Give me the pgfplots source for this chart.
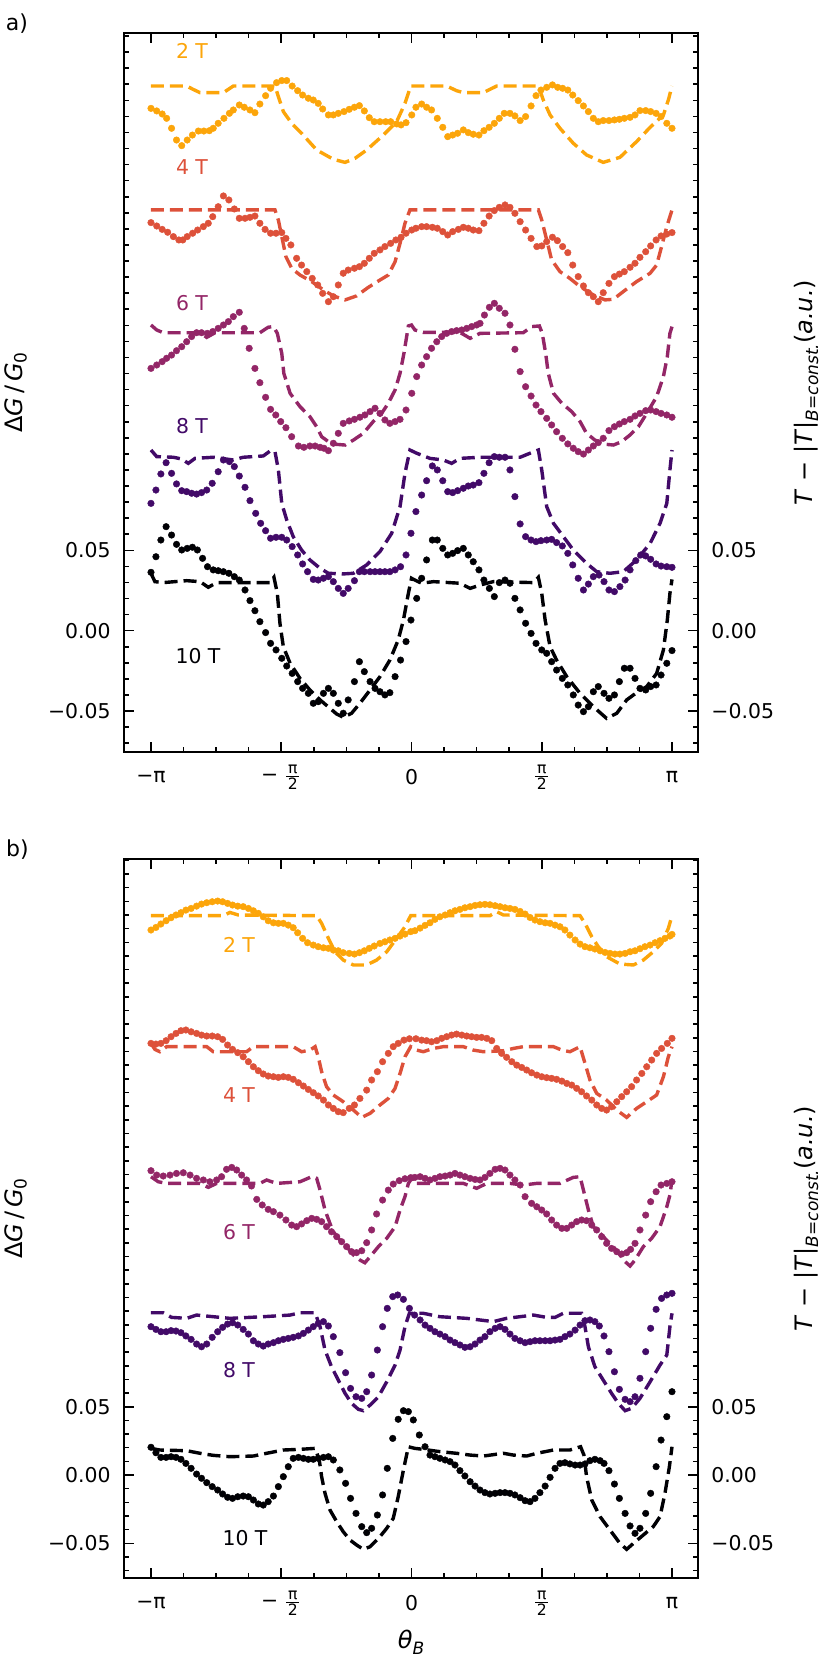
\documentclass[border=0pt]{standalone}
\usepackage{pgfplots}
\pgfplotsset{compat=1.18}
\usepackage{fontspec}
\setmainfont{DejaVu Sans}
\definecolor{cA}{HTML}{FCA50A}
\definecolor{cB}{HTML}{DD513A}
\definecolor{cC}{HTML}{932667}
\definecolor{cD}{HTML}{420A68}
\definecolor{cE}{HTML}{000004}
\newcommand{\fr}{$\frac{\mbox{\fontsize{7.8}{8}\selectfont\kern0.8pt π\kern0.8pt}}{\mbox{\fontsize{7.8}{8}\selectfont 2}}$}
\newcommand{\lbl}{\fontsize{12}{14}\selectfont}
\pgfplotsset{
 base/.style={scale only axis, width=287pt, height=359.5pt, anchor=south west, xmin=-1.1036, xmax=1.0998},
 main/.style={base, axis line style={line width=1pt}, tick align=inside, tick pos=both,
   xtick={-1,-0.5,0,0.5,1}, xticklabels={−π,−\hspace{3pt}\fr,0,\fr,π},
   minor xtick={-0.875,-0.75,-0.625,-0.375,-0.25,-0.125,0.125,0.25,0.375,0.625,0.75,0.875},
   ytick={-0.05,0,0.05}, yticklabels={−0.05,0.00,0.05},
   major tick length=5pt, minor tick length=2.5pt,
   every tick/.style={line width=0.8pt, black},
   tick label style={font=\fontsize{10.2}{12}\selectfont},
   xticklabel style={anchor=center, yshift=-12.5pt},
   yticklabel style={xshift=-3.2pt},
   ylabel={Δ\textit{G}\,/\,\textit{G}\raisebox{-0.3ex}{\fontsize{8.5}{9}\selectfont 0}},
   ylabel style={at={(axis description cs:-0.1882,0.5)}, anchor=center, font=\lbl},
 },
 right/.style={base, hide x axis, axis y line*=right, y axis line style={draw=none},
   ytick={-0.05,0,0.05}, yticklabels={−0.05,0.00,0.05}, major tick length=0pt, minor ytick={},
   tick label style={font=\fontsize{10.2}{12}\selectfont}, yticklabel style={xshift=3.2pt},
   ylabel={\textit{T} − |\textit{T}|\raisebox{-0.45ex}{\fontsize{8.5}{9}\selectfont\textit{B}=\textit{const.}}(\textit{a.u.})},
   ylabel style={at={(axis description cs:1.1882,0.5)}, anchor=center, rotate=0, font=\lbl},
 },
 pd/.style={only marks, mark=*, mark size=1.65pt, color=#1, mark options={solid, line width=0.2pt}},
 pl/.style={color=#1, line width=1.7pt, dash pattern=on 6.5pt off 3pt, mark=none},
}
\begin{document}
\begin{tikzpicture}
\path[use as bounding box] (0,0) rectangle (415.5pt,830.5pt);
% ---------------- panel a ----------------
\begin{axis}[main, at={(62pt,454.5pt)}, ymin=-0.0755, ymax=0.3719,
  minor ytick={-0.07,-0.06,...,0.37}]
\addplot[pd=cA] coordinates {(-1.000,0.3250) (-0.978,0.3234) (-0.957,0.3215) (-0.940,0.3188) (-0.921,0.3126) (-0.902,0.3053) (-0.882,0.3018) (-0.861,0.3053) (-0.841,0.3084) (-0.818,0.3109) (-0.797,0.3109) (-0.776,0.3111) (-0.761,0.3126) (-0.742,0.3157) (-0.720,0.3188) (-0.699,0.3219) (-0.684,0.3240) (-0.661,0.3271) (-0.642,0.3257) (-0.620,0.3240) (-0.601,0.3223) (-0.582,0.3277) (-0.560,0.3329) (-0.541,0.3375) (-0.518,0.3410) (-0.498,0.3423) (-0.479,0.3423) (-0.458,0.3389) (-0.437,0.3360) (-0.418,0.3333) (-0.396,0.3313) (-0.377,0.3302) (-0.358,0.3281) (-0.341,0.3246) (-0.319,0.3209) (-0.300,0.3209) (-0.281,0.3219) (-0.259,0.3230) (-0.239,0.3244) (-0.219,0.3257) (-0.200,0.3267) (-0.181,0.3234) (-0.162,0.3192) (-0.143,0.3167) (-0.121,0.3167) (-0.099,0.3167) (-0.080,0.3167) (-0.057,0.3153) (-0.040,0.3147) (-0.021,0.3161) (0.001,0.3209) (0.017,0.3257) (0.039,0.3277) (0.058,0.3257) (0.077,0.3240) (0.099,0.3188) (0.120,0.3132) (0.139,0.3074) (0.158,0.3084) (0.177,0.3095) (0.199,0.3116) (0.218,0.3099) (0.237,0.3089) (0.259,0.3084) (0.278,0.3111) (0.298,0.3132) (0.318,0.3157) (0.337,0.3188) (0.356,0.3219) (0.378,0.3219) (0.397,0.3203) (0.417,0.3174) (0.438,0.3199) (0.459,0.3265) (0.478,0.3329) (0.497,0.3364) (0.519,0.3381) (0.541,0.3396) (0.561,0.3381) (0.580,0.3375) (0.600,0.3364) (0.619,0.3333) (0.640,0.3298) (0.660,0.3265) (0.679,0.3230) (0.698,0.3188) (0.717,0.3167) (0.736,0.3174) (0.758,0.3174) (0.779,0.3178) (0.798,0.3182) (0.817,0.3188) (0.839,0.3194) (0.858,0.3209) (0.877,0.3236) (0.899,0.3236) (0.918,0.3230) (0.939,0.3219) (0.958,0.3199) (0.980,0.3157) (1.000,0.3126)};
\addplot[pl=cA] coordinates {(-1,0.3389) (-0.863,0.3389) (-0.838,0.3368) (-0.812,0.3348) (-0.722,0.3348) (-0.684,0.3389) (-0.524,0.3389) (-0.511,0.3323) (-0.492,0.3230) (-0.460,0.3157) (-0.422,0.3095) (-0.364,0.2991) (-0.300,0.2933) (-0.255,0.2914) (-0.217,0.2939) (-0.172,0.2991) (-0.108,0.3084) (-0.057,0.3167) (-0.025,0.3281) (-0.003,0.3389) (0.135,0.3389) (0.173,0.3360) (0.199,0.3348) (0.276,0.3348) (0.327,0.3389) (0.487,0.3389) (0.506,0.3302) (0.532,0.3209) (0.570,0.3126) (0.621,0.3033) (0.672,0.2960) (0.736,0.2914) (0.800,0.2945) (0.864,0.3043) (0.916,0.3132) (0.967,0.3209) (0.986,0.3302) (1.000,0.3389)};
\addplot[pd=cB] coordinates {(-1.000,0.2539) (-0.978,0.2518) (-0.957,0.2497) (-0.936,0.2479) (-0.914,0.2452) (-0.893,0.2431) (-0.878,0.2431) (-0.861,0.2452) (-0.840,0.2473) (-0.821,0.2493) (-0.799,0.2514) (-0.780,0.2535) (-0.763,0.2576) (-0.742,0.2638) (-0.722,0.2705) (-0.701,0.2680) (-0.680,0.2624) (-0.661,0.2566) (-0.639,0.2566) (-0.620,0.2572) (-0.601,0.2580) (-0.582,0.2535) (-0.562,0.2497) (-0.541,0.2473) (-0.520,0.2473) (-0.498,0.2477) (-0.482,0.2441) (-0.463,0.2400) (-0.441,0.2317) (-0.422,0.2275) (-0.402,0.2234) (-0.381,0.2192) (-0.360,0.2151) (-0.341,0.2099) (-0.319,0.2047) (-0.300,0.2078) (-0.281,0.2151) (-0.262,0.2224) (-0.243,0.2244) (-0.219,0.2255) (-0.200,0.2265) (-0.181,0.2286) (-0.162,0.2317) (-0.143,0.2348) (-0.121,0.2369) (-0.102,0.2390) (-0.080,0.2410) (-0.060,0.2431) (-0.040,0.2448) (-0.021,0.2473) (0.001,0.2493) (0.017,0.2504) (0.039,0.2514) (0.058,0.2514) (0.080,0.2510) (0.099,0.2504) (0.120,0.2483) (0.139,0.2462) (0.158,0.2483) (0.180,0.2497) (0.199,0.2510) (0.218,0.2504) (0.237,0.2493) (0.259,0.2489) (0.278,0.2535) (0.298,0.2580) (0.318,0.2614) (0.337,0.2634) (0.359,0.2649) (0.378,0.2634) (0.397,0.2597) (0.417,0.2545) (0.438,0.2493) (0.459,0.2441) (0.481,0.2390) (0.500,0.2394) (0.519,0.2421) (0.541,0.2448) (0.560,0.2427) (0.580,0.2390) (0.600,0.2352) (0.619,0.2275) (0.640,0.2203) (0.660,0.2145) (0.679,0.2103) (0.698,0.2078) (0.717,0.2047) (0.736,0.2103) (0.758,0.2161) (0.779,0.2203) (0.798,0.2219) (0.817,0.2234) (0.839,0.2261) (0.858,0.2286) (0.877,0.2323) (0.899,0.2358) (0.918,0.2394) (0.939,0.2431) (0.958,0.2456) (0.980,0.2468) (1.000,0.2477)};
\addplot[pl=cB] coordinates {(-1,0.2618) (-0.524,0.2618) (-0.511,0.2555) (-0.498,0.2452) (-0.482,0.2327) (-0.460,0.2255) (-0.428,0.2213) (-0.383,0.2172) (-0.338,0.2120) (-0.300,0.2083) (-0.255,0.2058) (-0.211,0.2083) (-0.166,0.2136) (-0.121,0.2182) (-0.089,0.2213) (-0.063,0.2296) (-0.044,0.2410) (-0.025,0.2535) (-0.006,0.2618) (0.487,0.2618) (0.500,0.2555) (0.519,0.2431) (0.538,0.2307) (0.570,0.2234) (0.608,0.2192) (0.647,0.2141) (0.698,0.2089) (0.743,0.2058) (0.775,0.2062) (0.813,0.2110) (0.864,0.2172) (0.916,0.2224) (0.941,0.2275) (0.960,0.2390) (0.980,0.2514) (1.000,0.2618)};
\addplot[pd=cC] coordinates {(-1.000,0.1632) (-0.978,0.1653) (-0.957,0.1674) (-0.940,0.1695) (-0.921,0.1715) (-0.902,0.1742) (-0.882,0.1767) (-0.863,0.1798) (-0.844,0.1830) (-0.825,0.1854) (-0.806,0.1854) (-0.784,0.1850) (-0.763,0.1861) (-0.742,0.1881) (-0.722,0.1902) (-0.703,0.1923) (-0.684,0.1954) (-0.661,0.1981) (-0.642,0.1881) (-0.623,0.1757) (-0.601,0.1632) (-0.582,0.1543) (-0.560,0.1452) (-0.541,0.1377) (-0.521,0.1342) (-0.502,0.1301) (-0.482,0.1263) (-0.460,0.1207) (-0.434,0.1149) (-0.413,0.1141) (-0.390,0.1149) (-0.370,0.1149) (-0.351,0.1141) (-0.336,0.1135) (-0.319,0.1120) (-0.300,0.1166) (-0.281,0.1228) (-0.262,0.1290) (-0.239,0.1305) (-0.219,0.1315) (-0.198,0.1328) (-0.179,0.1342) (-0.159,0.1363) (-0.140,0.1384) (-0.121,0.1352) (-0.102,0.1311) (-0.083,0.1290) (-0.063,0.1301) (-0.044,0.1315) (-0.021,0.1373) (0.001,0.1477) (0.020,0.1581) (0.039,0.1653) (0.058,0.1705) (0.077,0.1757) (0.097,0.1798) (0.116,0.1830) (0.135,0.1850) (0.154,0.1861) (0.173,0.1867) (0.193,0.1871) (0.212,0.1881) (0.231,0.1892) (0.250,0.1902) (0.263,0.1912) (0.280,0.1964) (0.299,0.2012) (0.318,0.2037) (0.337,0.2006) (0.359,0.1975) (0.378,0.1902) (0.397,0.1751) (0.417,0.1612) (0.438,0.1518) (0.459,0.1460) (0.478,0.1404) (0.497,0.1363) (0.519,0.1321) (0.538,0.1280) (0.557,0.1238) (0.579,0.1197) (0.600,0.1162) (0.621,0.1135) (0.640,0.1114) (0.660,0.1099) (0.679,0.1124) (0.698,0.1149) (0.717,0.1170) (0.736,0.1197) (0.758,0.1245) (0.779,0.1269) (0.798,0.1286) (0.817,0.1301) (0.839,0.1315) (0.858,0.1336) (0.877,0.1352) (0.899,0.1369) (0.918,0.1373) (0.939,0.1363) (0.958,0.1352) (0.980,0.1342) (1.000,0.1328)};
\addplot[pl=cC] coordinates {(-1,0.1902) (-0.978,0.1871) (-0.953,0.1854) (-0.812,0.1854) (-0.786,0.1825) (-0.754,0.1854) (-0.582,0.1854) (-0.550,0.1888) (-0.530,0.1892) (-0.515,0.1850) (-0.498,0.1726) (-0.490,0.1601) (-0.466,0.1477) (-0.428,0.1394) (-0.390,0.1332) (-0.364,0.1269) (-0.345,0.1207) (-0.319,0.1176) (-0.294,0.1160) (-0.255,0.1155) (-0.223,0.1186) (-0.185,0.1228) (-0.147,0.1301) (-0.115,0.1352) (-0.089,0.1415) (-0.063,0.1498) (-0.044,0.1601) (-0.029,0.1726) (-0.012,0.1896) (0.000,0.1902) (0.013,0.1871) (0.045,0.1856) (0.186,0.1856) (0.225,0.1819) (0.263,0.1850) (0.429,0.1854) (0.461,0.1892) (0.491,0.1896) (0.502,0.1850) (0.515,0.1726) (0.525,0.1601) (0.545,0.1477) (0.577,0.1415) (0.615,0.1363) (0.647,0.1301) (0.672,0.1228) (0.704,0.1186) (0.743,0.1160) (0.775,0.1155) (0.807,0.1176) (0.839,0.1218) (0.871,0.1269) (0.903,0.1352) (0.941,0.1456) (0.967,0.1581) (0.982,0.1705) (0.992,0.1850) (1.000,0.1892)};
\addplot[pd=cD] coordinates {(-1.000,0.0792) (-0.981,0.0875) (-0.962,0.0975) (-0.942,0.1045) (-0.921,0.0979) (-0.902,0.0913) (-0.882,0.0871) (-0.863,0.0865) (-0.844,0.0855) (-0.825,0.0850) (-0.806,0.0859) (-0.786,0.0875) (-0.765,0.0917) (-0.742,0.0989) (-0.722,0.1062) (-0.699,0.1052) (-0.680,0.1021) (-0.661,0.0962) (-0.639,0.0892) (-0.620,0.0809) (-0.598,0.0730) (-0.579,0.0668) (-0.560,0.0622) (-0.541,0.0575) (-0.520,0.0581) (-0.498,0.0581) (-0.479,0.0564) (-0.458,0.0523) (-0.437,0.0471) (-0.418,0.0415) (-0.399,0.0367) (-0.377,0.0319) (-0.358,0.0315) (-0.338,0.0326) (-0.319,0.0336) (-0.300,0.0305) (-0.281,0.0263) (-0.262,0.0232) (-0.243,0.0263) (-0.219,0.0311) (-0.200,0.0367) (-0.181,0.0367) (-0.159,0.0367) (-0.140,0.0367) (-0.121,0.0367) (-0.102,0.0367) (-0.083,0.0367) (-0.063,0.0378) (-0.042,0.0398) (-0.021,0.0471) (-0.002,0.0606) (0.017,0.0741) (0.039,0.0844) (0.058,0.0933) (0.080,0.1025) (0.099,0.1000) (0.120,0.0933) (0.139,0.0865) (0.158,0.0859) (0.177,0.0871) (0.199,0.0886) (0.218,0.0900) (0.237,0.0906) (0.259,0.0921) (0.278,0.0979) (0.298,0.1045) (0.318,0.1083) (0.337,0.1079) (0.359,0.1079) (0.378,0.1000) (0.397,0.0834) (0.417,0.0664) (0.438,0.0585) (0.459,0.0564) (0.478,0.0554) (0.497,0.0560) (0.519,0.0564) (0.538,0.0568) (0.557,0.0548) (0.579,0.0527) (0.600,0.0481) (0.619,0.0409) (0.640,0.0326) (0.660,0.0253) (0.679,0.0290) (0.698,0.0336) (0.720,0.0346) (0.739,0.0305) (0.758,0.0253) (0.779,0.0243) (0.800,0.0274) (0.820,0.0315) (0.839,0.0378) (0.861,0.0436) (0.880,0.0471) (0.899,0.0465) (0.918,0.0444) (0.939,0.0415) (0.958,0.0402) (0.980,0.0398) (1.000,0.0394)};
\addplot[pl=cD] coordinates {(-1,0.1124) (-0.978,0.1083) (-0.914,0.1079) (-0.882,0.1068) (-0.857,0.1041) (-0.831,0.1072) (-0.761,0.1079) (-0.684,0.1062) (-0.646,0.1079) (-0.569,0.1087) (-0.541,0.1120) (-0.524,0.1114) (-0.511,0.1000) (-0.498,0.0792) (-0.479,0.0689) (-0.454,0.0585) (-0.422,0.0502) (-0.390,0.0440) (-0.351,0.0388) (-0.319,0.0357) (-0.262,0.0353) (-0.223,0.0357) (-0.172,0.0409) (-0.121,0.0492) (-0.076,0.0606) (-0.044,0.0772) (-0.025,0.0979) (-0.006,0.1124) (0.020,0.1104) (0.071,0.1072) (0.122,0.1062) (0.154,0.1041) (0.186,0.1072) (0.263,0.1079) (0.417,0.1079) (0.455,0.1104) (0.487,0.1124) (0.500,0.1000) (0.519,0.0772) (0.545,0.0668) (0.583,0.0585) (0.621,0.0502) (0.672,0.0419) (0.711,0.0367) (0.762,0.0357) (0.813,0.0367) (0.864,0.0440) (0.916,0.0543) (0.954,0.0668) (0.980,0.0792) (0.992,0.1000) (1.000,0.1124)};
\addplot[pd=cE] coordinates {(-1.000,0.0363) (-0.981,0.0460) (-0.962,0.0564) (-0.942,0.0647) (-0.921,0.0595) (-0.902,0.0537) (-0.882,0.0502) (-0.861,0.0512) (-0.841,0.0519) (-0.822,0.0502) (-0.802,0.0450) (-0.783,0.0398) (-0.761,0.0378) (-0.742,0.0373) (-0.722,0.0367) (-0.701,0.0357) (-0.680,0.0336) (-0.661,0.0315) (-0.639,0.0253) (-0.620,0.0187) (-0.601,0.0124) (-0.582,0.0056) (-0.560,-0.0012) (-0.541,-0.0079) (-0.520,-0.0120) (-0.498,-0.0172) (-0.479,-0.0220) (-0.458,-0.0266) (-0.437,-0.0317) (-0.418,-0.0359) (-0.396,-0.0390) (-0.377,-0.0452) (-0.358,-0.0442) (-0.338,-0.0390) (-0.319,-0.0359) (-0.300,-0.0390) (-0.281,-0.0452) (-0.262,-0.0514) (-0.243,-0.0431) (-0.219,-0.0317) (-0.200,-0.0193) (-0.181,-0.0255) (-0.159,-0.0317) (-0.140,-0.0359) (-0.121,-0.0380) (-0.102,-0.0400) (-0.083,-0.0386) (-0.063,-0.0286) (-0.042,-0.0183) (-0.021,-0.0068) (-0.002,0.0066) (0.020,0.0201) (0.039,0.0326) (0.058,0.0440) (0.080,0.0564) (0.099,0.0564) (0.120,0.0512) (0.139,0.0471) (0.158,0.0481) (0.177,0.0498) (0.199,0.0512) (0.218,0.0471) (0.237,0.0429) (0.259,0.0378) (0.278,0.0315) (0.299,0.0263) (0.318,0.0212) (0.337,0.0299) (0.359,0.0315) (0.378,0.0295) (0.397,0.0201) (0.417,0.0129) (0.438,0.0046) (0.459,-0.0017) (0.478,-0.0079) (0.500,-0.0120) (0.519,-0.0141) (0.538,-0.0193) (0.557,-0.0245) (0.579,-0.0297) (0.600,-0.0338) (0.621,-0.0400) (0.640,-0.0463) (0.660,-0.0504) (0.679,-0.0473) (0.698,-0.0380) (0.717,-0.0348) (0.739,-0.0390) (0.758,-0.0421) (0.779,-0.0400) (0.798,-0.0317) (0.817,-0.0234) (0.839,-0.0234) (0.858,-0.0297) (0.877,-0.0359) (0.899,-0.0369) (0.918,-0.0348) (0.939,-0.0338) (0.958,-0.0276) (0.980,-0.0203) (1.000,-0.0124)};
\addplot[pl=cE] coordinates {(-1,0.0357) (-0.985,0.0305) (-0.953,0.0299) (-0.863,0.0311) (-0.812,0.0305) (-0.780,0.0270) (-0.748,0.0299) (-0.543,0.0299) (-0.528,0.0332) (-0.515,0.0232) (-0.505,0.0046) (-0.492,-0.0100) (-0.466,-0.0203) (-0.428,-0.0297) (-0.390,-0.0369) (-0.351,-0.0431) (-0.313,-0.0483) (-0.287,-0.0519) (-0.262,-0.0539) (-0.230,-0.0514) (-0.198,-0.0452) (-0.159,-0.0369) (-0.121,-0.0286) (-0.083,-0.0183) (-0.051,-0.0058) (-0.031,0.0066) (-0.012,0.0232) (0.000,0.0326) (0.013,0.0315) (0.039,0.0295) (0.084,0.0305) (0.186,0.0295) (0.225,0.0263) (0.263,0.0284) (0.314,0.0305) (0.468,0.0299) (0.487,0.0332) (0.500,0.0232) (0.513,0.0066) (0.532,-0.0100) (0.557,-0.0183) (0.596,-0.0286) (0.647,-0.0390) (0.698,-0.0473) (0.749,-0.0546) (0.788,-0.0514) (0.826,-0.0431) (0.864,-0.0386) (0.903,-0.0348) (0.941,-0.0266) (0.967,-0.0120) (0.982,0.0066) (0.992,0.0232) (1.000,0.0319)};
\node[text=cA, font=\fontsize{10.2}{12}\selectfont] at (axis cs:-0.8426,0.3607) {2 T};
\node[text=cB, font=\fontsize{10.2}{12}\selectfont] at (axis cs:-0.8426,0.2886) {4 T};
\node[text=cC, font=\fontsize{10.2}{12}\selectfont] at (axis cs:-0.8426,0.2040) {6 T};
\node[text=cD, font=\fontsize{10.2}{12}\selectfont] at (axis cs:-0.8426,0.1274) {8 T};
\node[text=cE, font=\fontsize{10.2}{12}\selectfont] at (axis cs:-0.8196,-0.0158) {10 T};
\end{axis}
\begin{axis}[right, at={(62pt,454.5pt)}, ymin=-0.0755, ymax=0.3719]
\end{axis}
% ---------------- panel b ----------------
\begin{axis}[main, at={(62pt,41.5pt)}, ymin=-0.0754, ymax=0.4510,
  minor ytick={-0.07,-0.06,...,0.45},
  xlabel={\textit{θ}\raisebox{-0.45ex}{\fontsize{8.5}{9}\selectfont\textit{B}}},
  xlabel style={at={(axis description cs:0.5,0)}, anchor=center, yshift=-32pt, font=\lbl}]
\addplot[pd=cA] coordinates {(-1.000,0.3990) (-0.981,0.4009) (-0.962,0.4034) (-0.942,0.4058) (-0.923,0.4080) (-0.904,0.4100) (-0.885,0.4117) (-0.866,0.4136) (-0.846,0.4148) (-0.825,0.4165) (-0.806,0.4180) (-0.786,0.4190) (-0.765,0.4197) (-0.744,0.4202) (-0.725,0.4197) (-0.706,0.4185) (-0.687,0.4173) (-0.667,0.4165) (-0.646,0.4161) (-0.626,0.4148) (-0.607,0.4131) (-0.588,0.4112) (-0.569,0.4087) (-0.550,0.4058) (-0.530,0.4043) (-0.511,0.4039) (-0.492,0.4039) (-0.473,0.4026) (-0.454,0.4007) (-0.437,0.3970) (-0.418,0.3929) (-0.399,0.3897) (-0.377,0.3880) (-0.358,0.3868) (-0.338,0.3860) (-0.319,0.3856) (-0.300,0.3843) (-0.281,0.3838) (-0.262,0.3824) (-0.239,0.3819) (-0.219,0.3814) (-0.200,0.3824) (-0.181,0.3838) (-0.162,0.3856) (-0.143,0.3873) (-0.121,0.3892) (-0.102,0.3904) (-0.083,0.3917) (-0.063,0.3929) (-0.044,0.3946) (-0.025,0.3960) (-0.003,0.3978) (0.013,0.3985) (0.033,0.4004) (0.052,0.4024) (0.071,0.4043) (0.090,0.4068) (0.109,0.4087) (0.129,0.4100) (0.148,0.4117) (0.167,0.4131) (0.186,0.4141) (0.205,0.4153) (0.225,0.4161) (0.244,0.4170) (0.263,0.4175) (0.282,0.4178) (0.301,0.4175) (0.321,0.4168) (0.340,0.4161) (0.359,0.4153) (0.378,0.4148) (0.397,0.4141) (0.417,0.4126) (0.436,0.4107) (0.455,0.4082) (0.474,0.4063) (0.493,0.4051) (0.513,0.4043) (0.532,0.4039) (0.551,0.4026) (0.570,0.4014) (0.589,0.3990) (0.608,0.3953) (0.628,0.3917) (0.647,0.3887) (0.666,0.3868) (0.685,0.3860) (0.704,0.3851) (0.724,0.3838) (0.743,0.3826) (0.762,0.3819) (0.781,0.3814) (0.800,0.3814) (0.820,0.3819) (0.839,0.3831) (0.858,0.3838) (0.877,0.3853) (0.896,0.3868) (0.916,0.3880) (0.935,0.3897) (0.954,0.3912) (0.973,0.3929) (0.992,0.3946) (1.000,0.3958)};
\addplot[pl=cA] coordinates {(-1,0.4095) (-0.722,0.4095) (-0.697,0.4119) (-0.665,0.4100) (-0.364,0.4095) (-0.345,0.4039) (-0.319,0.3929) (-0.294,0.3831) (-0.262,0.3770) (-0.223,0.3734) (-0.172,0.3734) (-0.134,0.3770) (-0.095,0.3831) (-0.057,0.3929) (-0.025,0.4014) (-0.003,0.4095) (0.301,0.4095) (0.327,0.4124) (0.353,0.4100) (0.647,0.4095) (0.666,0.4039) (0.692,0.3941) (0.717,0.3868) (0.749,0.3795) (0.800,0.3741) (0.852,0.3734) (0.890,0.3770) (0.928,0.3831) (0.960,0.3892) (0.986,0.4002) (1.000,0.4095)};
\addplot[pd=cB] coordinates {(-1.000,0.3160) (-0.981,0.3155) (-0.962,0.3160) (-0.942,0.3180) (-0.923,0.3209) (-0.904,0.3233) (-0.885,0.3253) (-0.866,0.3258) (-0.846,0.3245) (-0.825,0.3233) (-0.806,0.3221) (-0.786,0.3214) (-0.765,0.3214) (-0.744,0.3209) (-0.725,0.3189) (-0.706,0.3148) (-0.687,0.3116) (-0.667,0.3092) (-0.646,0.3062) (-0.626,0.3026) (-0.607,0.2989) (-0.588,0.2960) (-0.569,0.2936) (-0.550,0.2921) (-0.530,0.2916) (-0.511,0.2911) (-0.492,0.2916) (-0.473,0.2911) (-0.454,0.2897) (-0.434,0.2872) (-0.415,0.2848) (-0.396,0.2823) (-0.377,0.2799) (-0.358,0.2775) (-0.338,0.2745) (-0.319,0.2709) (-0.300,0.2684) (-0.281,0.2660) (-0.262,0.2653) (-0.239,0.2684) (-0.219,0.2709) (-0.198,0.2757) (-0.172,0.2818) (-0.153,0.2892) (-0.131,0.2953) (-0.111,0.3026) (-0.089,0.3087) (-0.070,0.3136) (-0.051,0.3160) (-0.029,0.3184) (-0.008,0.3194) (0.017,0.3194) (0.039,0.3184) (0.058,0.3180) (0.077,0.3172) (0.097,0.3180) (0.116,0.3197) (0.135,0.3209) (0.154,0.3221) (0.173,0.3228) (0.193,0.3221) (0.212,0.3214) (0.231,0.3209) (0.250,0.3204) (0.269,0.3204) (0.289,0.3197) (0.308,0.3180) (0.327,0.3123) (0.346,0.3087) (0.365,0.3058) (0.385,0.3026) (0.404,0.3001) (0.423,0.2984) (0.442,0.2965) (0.461,0.2945) (0.481,0.2928) (0.500,0.2916) (0.519,0.2909) (0.538,0.2904) (0.557,0.2897) (0.577,0.2884) (0.596,0.2867) (0.615,0.2855) (0.634,0.2831) (0.653,0.2806) (0.672,0.2775) (0.692,0.2745) (0.711,0.2709) (0.730,0.2684) (0.749,0.2672) (0.768,0.2696) (0.788,0.2733) (0.807,0.2770) (0.826,0.2806) (0.845,0.2843) (0.864,0.2892) (0.884,0.2940) (0.903,0.2989) (0.922,0.3038) (0.941,0.3087) (0.960,0.3123) (0.982,0.3160) (1.000,0.3197)};
\addplot[pl=cB] coordinates {(-1,0.3160) (-0.985,0.3116) (-0.966,0.3099) (-0.940,0.3136) (-0.786,0.3136) (-0.761,0.3099) (-0.633,0.3099) (-0.607,0.3136) (-0.454,0.3136) (-0.422,0.3099) (-0.390,0.3111) (-0.370,0.3136) (-0.358,0.3062) (-0.345,0.2953) (-0.326,0.2843) (-0.300,0.2782) (-0.262,0.2733) (-0.223,0.2672) (-0.191,0.2618) (-0.159,0.2648) (-0.121,0.2709) (-0.089,0.2757) (-0.063,0.2831) (-0.044,0.2940) (-0.025,0.3062) (-0.003,0.3136) (0.020,0.3111) (0.045,0.3099) (0.084,0.3123) (0.122,0.3136) (0.199,0.3136) (0.237,0.3111) (0.276,0.3099) (0.353,0.3106) (0.391,0.3123) (0.429,0.3136) (0.545,0.3136) (0.577,0.3111) (0.608,0.3099) (0.647,0.3136) (0.666,0.3014) (0.685,0.2892) (0.711,0.2794) (0.749,0.2745) (0.788,0.2672) (0.826,0.2618) (0.864,0.2684) (0.903,0.2733) (0.941,0.2782) (0.967,0.2916) (0.986,0.3062) (1.000,0.3136)};
\addplot[pd=cC] coordinates {(-1.000,0.2228) (-0.978,0.2196) (-0.953,0.2189) (-0.927,0.2196) (-0.902,0.2208) (-0.876,0.2213) (-0.850,0.2196) (-0.825,0.2172) (-0.799,0.2160) (-0.774,0.2147) (-0.748,0.2160) (-0.729,0.2184) (-0.710,0.2238) (-0.690,0.2252) (-0.671,0.2233) (-0.652,0.2196) (-0.633,0.2160) (-0.614,0.2116) (-0.594,0.2018) (-0.573,0.1977) (-0.550,0.1945) (-0.530,0.1928) (-0.505,0.1903) (-0.482,0.1867) (-0.460,0.1830) (-0.441,0.1818) (-0.422,0.1838) (-0.402,0.1862) (-0.383,0.1879) (-0.364,0.1872) (-0.345,0.1855) (-0.326,0.1818) (-0.307,0.1781) (-0.287,0.1745) (-0.268,0.1708) (-0.249,0.1672) (-0.230,0.1635) (-0.211,0.1628) (-0.191,0.1642) (-0.172,0.1701) (-0.153,0.1794) (-0.134,0.1911) (-0.111,0.2013) (-0.089,0.2086) (-0.070,0.2130) (-0.047,0.2155) (-0.025,0.2169) (-0.003,0.2177) (0.013,0.2179) (0.033,0.2184) (0.052,0.2172) (0.071,0.2160) (0.090,0.2172) (0.109,0.2184) (0.129,0.2189) (0.148,0.2196) (0.167,0.2208) (0.186,0.2196) (0.205,0.2184) (0.225,0.2172) (0.244,0.2164) (0.263,0.2160) (0.282,0.2179) (0.301,0.2208) (0.321,0.2238) (0.340,0.2245) (0.359,0.2233) (0.378,0.2196) (0.397,0.2160) (0.417,0.2123) (0.436,0.2038) (0.461,0.1989) (0.481,0.1964) (0.500,0.1940) (0.519,0.1911) (0.538,0.1867) (0.557,0.1830) (0.577,0.1806) (0.596,0.1806) (0.615,0.1830) (0.634,0.1855) (0.653,0.1867) (0.672,0.1862) (0.692,0.1830) (0.711,0.1794) (0.730,0.1745) (0.749,0.1696) (0.768,0.1659) (0.788,0.1635) (0.807,0.1618) (0.826,0.1628) (0.841,0.1652) (0.858,0.1696) (0.877,0.1794) (0.899,0.1903) (0.918,0.2001) (0.939,0.2074) (0.958,0.2123) (0.980,0.2135) (1.000,0.2147)};
\addplot[pl=cC] coordinates {(-1,0.2184) (-0.972,0.2147) (-0.940,0.2135) (-0.812,0.2135) (-0.780,0.2106) (-0.748,0.2135) (-0.582,0.2135) (-0.556,0.2160) (-0.518,0.2135) (-0.428,0.2147) (-0.383,0.2184) (-0.364,0.2172) (-0.351,0.2086) (-0.332,0.1940) (-0.313,0.1842) (-0.300,0.1781) (-0.275,0.1720) (-0.249,0.1672) (-0.223,0.1611) (-0.198,0.1574) (-0.179,0.1554) (-0.159,0.1598) (-0.127,0.1672) (-0.095,0.1733) (-0.063,0.1818) (-0.044,0.1940) (-0.025,0.2038) (-0.012,0.2135) (0.001,0.2172) (0.007,0.2135) (0.199,0.2135) (0.250,0.2099) (0.289,0.2135) (0.378,0.2135) (0.429,0.2123) (0.481,0.2135) (0.570,0.2135) (0.621,0.2179) (0.647,0.2184) (0.660,0.2086) (0.679,0.1940) (0.698,0.1818) (0.724,0.1769) (0.749,0.1720) (0.775,0.1672) (0.800,0.1611) (0.820,0.1562) (0.839,0.1530) (0.858,0.1574) (0.890,0.1672) (0.922,0.1733) (0.954,0.1818) (0.980,0.1964) (0.992,0.2050) (1.000,0.2160)};
\addplot[pd=cD] coordinates {(-1.000,0.1086) (-0.981,0.1066) (-0.962,0.1049) (-0.942,0.1049) (-0.923,0.1057) (-0.904,0.1054) (-0.885,0.1042) (-0.866,0.1018) (-0.846,0.0993) (-0.825,0.0959) (-0.806,0.0939) (-0.786,0.0959) (-0.765,0.1008) (-0.744,0.1049) (-0.725,0.1081) (-0.706,0.1105) (-0.687,0.1115) (-0.667,0.1098) (-0.646,0.1066) (-0.626,0.1032) (-0.607,0.0983) (-0.588,0.0959) (-0.569,0.0944) (-0.550,0.0959) (-0.530,0.0969) (-0.511,0.0983) (-0.492,0.0993) (-0.473,0.1000) (-0.454,0.1008) (-0.434,0.1018) (-0.415,0.1037) (-0.396,0.1061) (-0.377,0.1086) (-0.358,0.1110) (-0.338,0.1123) (-0.319,0.1091) (-0.300,0.1013) (-0.275,0.0896) (-0.253,0.0749) (-0.234,0.0634) (-0.213,0.0573) (-0.191,0.0561) (-0.172,0.0610) (-0.153,0.0732) (-0.131,0.0915) (-0.111,0.1086) (-0.093,0.1220) (-0.072,0.1306) (-0.053,0.1318) (-0.031,0.1286) (-0.008,0.1220) (0.012,0.1171) (0.033,0.1135) (0.052,0.1098) (0.071,0.1074) (0.090,0.1049) (0.109,0.1032) (0.129,0.1013) (0.148,0.0988) (0.167,0.0969) (0.186,0.0952) (0.205,0.0935) (0.225,0.0939) (0.244,0.0959) (0.263,0.0988) (0.282,0.1013) (0.301,0.1049) (0.321,0.1074) (0.340,0.1086) (0.359,0.1066) (0.378,0.1032) (0.397,0.1000) (0.417,0.0983) (0.436,0.0969) (0.455,0.0976) (0.474,0.0983) (0.493,0.0983) (0.513,0.0983) (0.532,0.0983) (0.551,0.0988) (0.570,0.0993) (0.589,0.1013) (0.608,0.1032) (0.628,0.1061) (0.647,0.1098) (0.666,0.1130) (0.685,0.1135) (0.704,0.1123) (0.721,0.1091) (0.739,0.1018) (0.758,0.0903) (0.779,0.0756) (0.798,0.0627) (0.820,0.0554) (0.839,0.0537) (0.858,0.0573) (0.877,0.0708) (0.899,0.0903) (0.918,0.1074) (0.939,0.1213) (0.960,0.1293) (0.980,0.1318) (1.000,0.1330)};
\addplot[pl=cD] coordinates {(-1,0.1188) (-0.953,0.1188) (-0.921,0.1154) (-0.863,0.1147) (-0.825,0.1171) (-0.761,0.1159) (-0.697,0.1147) (-0.569,0.1159) (-0.466,0.1171) (-0.428,0.1188) (-0.370,0.1188) (-0.351,0.1086) (-0.332,0.0915) (-0.307,0.0793) (-0.281,0.0695) (-0.255,0.0598) (-0.230,0.0525) (-0.204,0.0481) (-0.185,0.0471) (-0.159,0.0512) (-0.127,0.0573) (-0.095,0.0683) (-0.063,0.0805) (-0.044,0.0915) (-0.025,0.1086) (-0.008,0.1184) (0.045,0.1184) (0.109,0.1159) (0.212,0.1147) (0.314,0.1123) (0.365,0.1147) (0.468,0.1171) (0.519,0.1154) (0.551,0.1154) (0.583,0.1184) (0.653,0.1184) (0.666,0.1086) (0.679,0.0939) (0.704,0.0793) (0.736,0.0695) (0.768,0.0598) (0.794,0.0525) (0.820,0.0471) (0.845,0.0488) (0.877,0.0561) (0.916,0.0683) (0.954,0.0805) (0.980,0.0878) (0.992,0.1086) (1.000,0.1184)};
\addplot[pd=cE] coordinates {(-1.000,0.0203) (-0.981,0.0163) (-0.962,0.0129) (-0.942,0.0129) (-0.923,0.0134) (-0.904,0.0129) (-0.885,0.0115) (-0.866,0.0085) (-0.846,0.0049) (-0.825,0.0007) (-0.806,-0.0024) (-0.786,-0.0056) (-0.765,-0.0085) (-0.744,-0.0110) (-0.725,-0.0139) (-0.706,-0.0163) (-0.687,-0.0171) (-0.667,-0.0159) (-0.646,-0.0154) (-0.626,-0.0159) (-0.607,-0.0183) (-0.588,-0.0212) (-0.569,-0.0220) (-0.550,-0.0195) (-0.530,-0.0154) (-0.511,-0.0085) (-0.492,-0.0012) (-0.473,0.0061) (-0.454,0.0122) (-0.434,0.0129) (-0.415,0.0122) (-0.396,0.0115) (-0.377,0.0115) (-0.358,0.0122) (-0.338,0.0129) (-0.319,0.0134) (-0.300,0.0110) (-0.275,0.0037) (-0.253,-0.0061) (-0.234,-0.0171) (-0.213,-0.0281) (-0.191,-0.0378) (-0.172,-0.0422) (-0.153,-0.0390) (-0.131,-0.0293) (-0.111,-0.0146) (-0.093,0.0049) (-0.072,0.0268) (-0.051,0.0408) (-0.031,0.0471) (-0.012,0.0464) (0.007,0.0403) (0.030,0.0293) (0.052,0.0207) (0.071,0.0146) (0.090,0.0134) (0.109,0.0122) (0.129,0.0110) (0.148,0.0098) (0.167,0.0073) (0.186,0.0032) (0.205,-0.0007) (0.225,-0.0049) (0.244,-0.0081) (0.263,-0.0110) (0.282,-0.0129) (0.301,-0.0139) (0.321,-0.0134) (0.340,-0.0129) (0.359,-0.0129) (0.378,-0.0134) (0.397,-0.0146) (0.417,-0.0166) (0.436,-0.0188) (0.455,-0.0195) (0.474,-0.0171) (0.493,-0.0129) (0.513,-0.0081) (0.532,-0.0017) (0.551,0.0049) (0.570,0.0085) (0.589,0.0090) (0.608,0.0081) (0.628,0.0073) (0.647,0.0073) (0.666,0.0081) (0.685,0.0105) (0.704,0.0115) (0.724,0.0105) (0.739,0.0085) (0.758,0.0032) (0.779,-0.0066) (0.798,-0.0171) (0.820,-0.0281) (0.839,-0.0373) (0.858,-0.0427) (0.877,-0.0390) (0.899,-0.0281) (0.918,-0.0134) (0.939,0.0061) (0.958,0.0256) (0.980,0.0427) (1.000,0.0610)};
\addplot[pl=cE] coordinates {(-1,0.0195) (-0.966,0.0183) (-0.863,0.0178) (-0.812,0.0159) (-0.761,0.0144) (-0.697,0.0134) (-0.607,0.0139) (-0.556,0.0159) (-0.492,0.0183) (-0.428,0.0188) (-0.370,0.0195) (-0.354,0.0110) (-0.345,-0.0012) (-0.332,-0.0134) (-0.313,-0.0256) (-0.287,-0.0342) (-0.262,-0.0415) (-0.236,-0.0476) (-0.211,-0.0512) (-0.185,-0.0544) (-0.159,-0.0525) (-0.121,-0.0451) (-0.095,-0.0390) (-0.070,-0.0317) (-0.051,-0.0159) (-0.031,0.0037) (-0.012,0.0207) (0.013,0.0195) (0.045,0.0188) (0.109,0.0171) (0.173,0.0159) (0.225,0.0146) (0.276,0.0139) (0.353,0.0159) (0.391,0.0146) (0.442,0.0139) (0.481,0.0159) (0.545,0.0183) (0.608,0.0183) (0.649,0.0207) (0.662,0.0146) (0.672,-0.0012) (0.692,-0.0183) (0.724,-0.0305) (0.762,-0.0403) (0.800,-0.0500) (0.826,-0.0544) (0.852,-0.0500) (0.890,-0.0439) (0.928,-0.0378) (0.954,-0.0305) (0.973,-0.0134) (0.990,0.0061) (1.000,0.0207)};
\node[text=cA, font=\fontsize{10.2}{12}\selectfont] at (axis cs:-0.6622,0.3880) {2 T};
\node[text=cB, font=\fontsize{10.2}{12}\selectfont] at (axis cs:-0.6622,0.2782) {4 T};
\node[text=cC, font=\fontsize{10.2}{12}\selectfont] at (axis cs:-0.6622,0.1779) {6 T};
\node[text=cD, font=\fontsize{10.2}{12}\selectfont] at (axis cs:-0.6622,0.0769) {8 T};
\node[text=cE, font=\fontsize{10.2}{12}\selectfont] at (axis cs:-0.6392,-0.0461) {10 T};
\end{axis}
\begin{axis}[right, at={(62pt,41.5pt)}, ymin=-0.0754, ymax=0.4510]
\end{axis}
\node[font=\fontsize{11}{13}\selectfont] at (8.4pt,818.8pt) {a)};
\node[font=\fontsize{11}{13}\selectfont] at (8.7pt,405.5pt) {b)};
\end{tikzpicture}
\end{document}
